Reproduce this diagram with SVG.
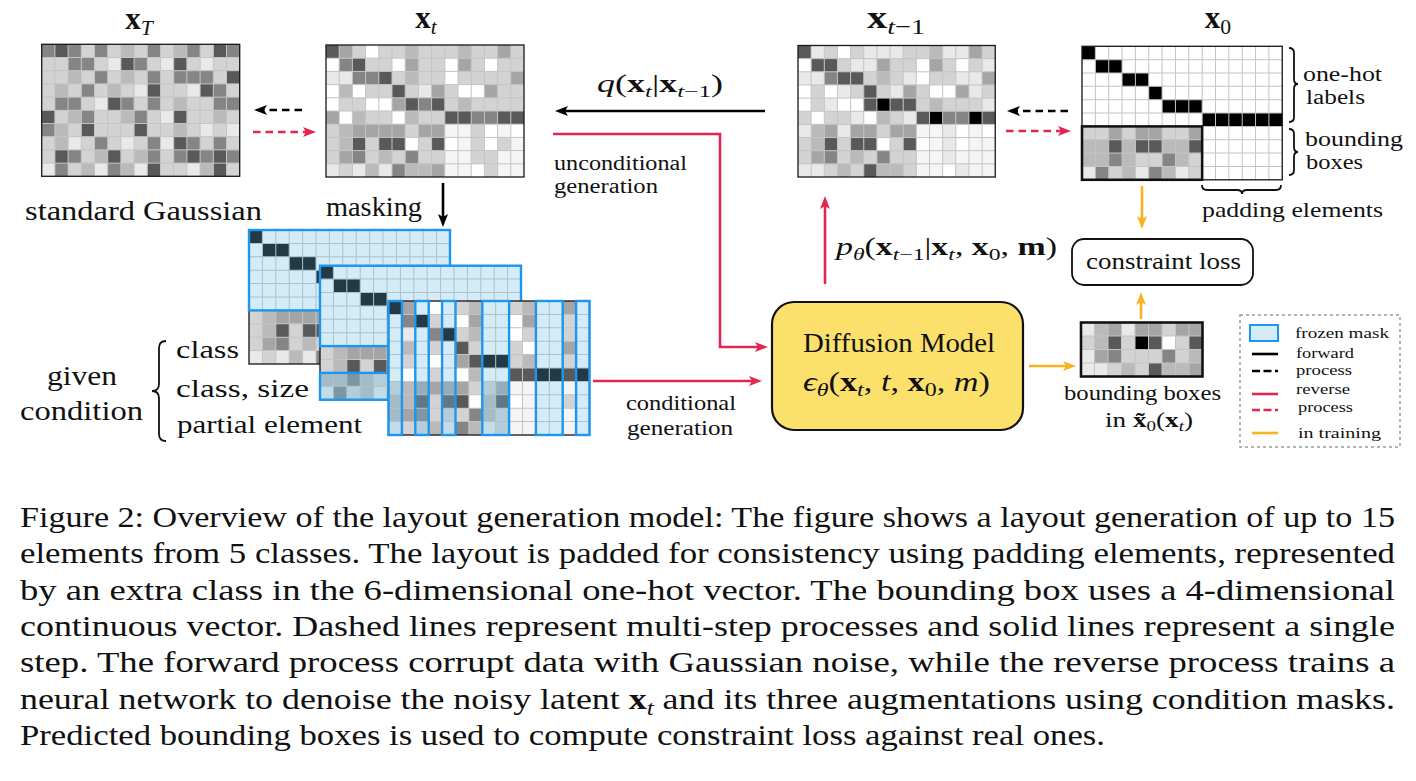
<svg xmlns="http://www.w3.org/2000/svg" xmlns:xlink="http://www.w3.org/1999/xlink" width="1416" height="781" viewBox="0 0 1416 781">
<style>
.t{font-family:"Liberation Serif","Times New Roman",serif;fill:#111}
.bx{font-weight:bold}
.it{font-style:italic}
.s{font-size:70%}
.gl{fill:none;stroke:#c4c4c4;stroke-width:.075}
.bd{fill:none;stroke:#1a1a1a;stroke-width:.1}
.fm{fill:#6cbfe8;fill-opacity:.3;stroke:#1e96f0;stroke-width:.18}
.ln{fill:none;stroke-width:2.6}
.k{stroke:#000}
.r{stroke:#e0284f}
.y{stroke:#f9b320}
.dash{stroke-dasharray:7.5 5}
.br{fill:none;stroke:#111;stroke-width:1.8}
</style>
<defs>
<rect id="W" width="1" height="1" fill="#ffffff"/>
<rect id="F" width="1" height="1" fill="#f5f5f5"/>
<rect id="E" width="1" height="1" fill="#e9e9e9"/>
<rect id="L" width="1" height="1" fill="#d3d3d3"/>
<rect id="M" width="1" height="1" fill="#bababa"/>
<rect id="G" width="1" height="1" fill="#a5a5a5"/>
<rect id="K" width="1" height="1" fill="#858585"/>
<rect id="D" width="1" height="1" fill="#595959"/>
<rect id="B" width="1" height="1" fill="#000000"/>
<path id="g15" d="M1 0V10M2 0V10M3 0V10M4 0V10M5 0V10M6 0V10M7 0V10M8 0V10M9 0V10M10 0V10M11 0V10M12 0V10M13 0V10M14 0V10M0 1H15M0 2H15M0 3H15M0 4H15M0 5H15M0 6H15M0 7H15M0 8H15M0 9H15"/>
<path id="g9" d="M1 0V4M2 0V4M3 0V4M4 0V4M5 0V4M6 0V4M7 0V4M8 0V4M0 1H9M0 2H9M0 3H9"/>
<g id="onehot">
<rect x="0" y="0" width="1" height="1" fill="#000"/>
<rect x="1" y="1" width="2" height="1" fill="#000"/>
<rect x="3" y="2" width="2" height="1" fill="#000"/>
<rect x="5" y="3" width="1" height="1" fill="#000"/>
<rect x="6" y="4" width="3" height="1" fill="#000"/>
<rect x="9" y="5" width="6" height="1" fill="#000"/>
</g>
<marker id="ak" viewBox="0 0 13 10" refX="3" refY="5" markerWidth="13" markerHeight="10" markerUnits="userSpaceOnUse" orient="auto"><path d="M0,0 L13,5 L0,10 L3,5 z" fill="#000"/></marker>
<marker id="ar" viewBox="0 0 13 10" refX="3" refY="5" markerWidth="13" markerHeight="10" markerUnits="userSpaceOnUse" orient="auto"><path d="M0,0 L13,5 L0,10 L3,5 z" fill="#e0284f"/></marker>
<marker id="ay" viewBox="0 0 13 10" refX="3" refY="5" markerWidth="13" markerHeight="10" markerUnits="userSpaceOnUse" orient="auto"><path d="M0,0 L13,5 L0,10 L3,5 z" fill="#f9b320"/></marker>
</defs>
<rect width="1416" height="781" fill="#fff"/>

<!-- x_T grid -->
<g id="grid-xT" transform="translate(41.7 44.3) scale(13.2)">
<rect width="15" height="10" fill="#d3d3d3"/>
<use href="#K" x="0" y="0"/><use href="#D" x="1" y="0"/><use href="#K" x="2" y="0"/><use href="#K" x="4" y="0"/><use href="#M" x="6" y="0"/><use href="#K" x="8" y="0"/><use href="#M" x="10" y="0"/><use href="#K" x="11" y="0"/><use href="#D" x="13" y="0"/><use href="#K" x="14" y="0"/>
<use href="#K" x="2" y="1"/><use href="#K" x="3" y="1"/><use href="#E" x="5" y="1"/><use href="#D" x="6" y="1"/><use href="#K" x="7" y="1"/><use href="#E" x="9" y="1"/><use href="#D" x="10" y="1"/><use href="#E" x="12" y="1"/>
<use href="#M" x="2" y="2"/><use href="#K" x="4" y="2"/><use href="#M" x="6" y="2"/><use href="#K" x="8" y="2"/><use href="#K" x="10" y="2"/><use href="#K" x="11" y="2"/><use href="#K" x="12" y="2"/><use href="#D" x="14" y="2"/>
<use href="#M" x="1" y="3"/><use href="#K" x="3" y="3"/><use href="#M" x="5" y="3"/><use href="#E" x="7" y="3"/><use href="#D" x="8" y="3"/><use href="#E" x="11" y="3"/><use href="#D" x="12" y="3"/><use href="#K" x="13" y="3"/>
<use href="#K" x="1" y="4"/><use href="#K" x="2" y="4"/><use href="#E" x="4" y="4"/><use href="#D" x="5" y="4"/><use href="#K" x="6" y="4"/><use href="#K" x="8" y="4"/><use href="#M" x="10" y="4"/><use href="#K" x="13" y="4"/><use href="#K" x="14" y="4"/>
<use href="#D" x="0" y="5"/><use href="#M" x="2" y="5"/><use href="#K" x="3" y="5"/><use href="#M" x="6" y="5"/><use href="#K" x="7" y="5"/><use href="#E" x="9" y="5"/><use href="#D" x="10" y="5"/><use href="#M" x="13" y="5"/>
<use href="#K" x="0" y="6"/><use href="#M" x="1" y="6"/><use href="#D" x="3" y="6"/><use href="#D" x="7" y="6"/><use href="#M" x="10" y="6"/><use href="#E" x="12" y="6"/><use href="#E" x="14" y="6"/>
<use href="#M" x="1" y="7"/><use href="#E" x="2" y="7"/><use href="#K" x="4" y="7"/><use href="#E" x="6" y="7"/><use href="#K" x="8" y="7"/><use href="#E" x="9" y="7"/><use href="#D" x="10" y="7"/><use href="#K" x="11" y="7"/><use href="#K" x="13" y="7"/>
<use href="#D" x="1" y="8"/><use href="#K" x="2" y="8"/><use href="#M" x="4" y="8"/><use href="#D" x="5" y="8"/><use href="#M" x="7" y="8"/><use href="#K" x="8" y="8"/><use href="#K" x="10" y="8"/><use href="#D" x="11" y="8"/><use href="#K" x="12" y="8"/><use href="#D" x="13" y="8"/><use href="#K" x="14" y="8"/>
<use href="#E" x="0" y="9"/><use href="#K" x="1" y="9"/><use href="#M" x="3" y="9"/><use href="#E" x="4" y="9"/><use href="#K" x="5" y="9"/><use href="#M" x="6" y="9"/><use href="#E" x="7" y="9"/><use href="#D" x="8" y="9"/><use href="#E" x="11" y="9"/><use href="#M" x="12" y="9"/><use href="#D" x="13" y="9"/>
<use href="#g15" class="gl"/>
<rect width="15" height="10" class="bd"/>
</g>

<!-- x_t grid -->
<g id="grid-xt" transform="translate(326 45) scale(13.2)">
<rect width="15" height="10" fill="#d3d3d3"/>
<use href="#D" x="0" y="0"/><use href="#G" x="1" y="0"/><use href="#W" x="3" y="0"/><use href="#M" x="6" y="0"/><use href="#M" x="10" y="0"/><use href="#G" x="13" y="0"/>
<use href="#W" x="0" y="1"/><use href="#K" x="1" y="1"/><use href="#D" x="2" y="1"/><use href="#W" x="5" y="1"/><use href="#G" x="6" y="1"/><use href="#W" x="9" y="1"/><use href="#G" x="10" y="1"/><use href="#W" x="12" y="1"/>
<use href="#E" x="0" y="2"/><use href="#E" x="1" y="2"/><use href="#K" x="2" y="2"/><use href="#K" x="3" y="2"/><use href="#D" x="4" y="2"/><use href="#M" x="6" y="2"/><use href="#W" x="9" y="2"/><use href="#G" x="14" y="2"/>
<use href="#W" x="0" y="3"/><use href="#M" x="1" y="3"/><use href="#W" x="2" y="3"/><use href="#D" x="5" y="3"/><use href="#E" x="7" y="3"/><use href="#G" x="8" y="3"/><use href="#W" x="10" y="3"/><use href="#W" x="11" y="3"/><use href="#G" x="12" y="3"/>
<use href="#W" x="0" y="4"/><use href="#W" x="3" y="4"/><use href="#W" x="4" y="4"/><use href="#G" x="5" y="4"/><use href="#D" x="6" y="4"/><use href="#K" x="7" y="4"/><use href="#D" x="8" y="4"/><use href="#M" x="10" y="4"/>
<use href="#G" x="0" y="5"/><use href="#W" x="1" y="5"/><use href="#M" x="2" y="5"/><use href="#W" x="5" y="5"/><use href="#M" x="6" y="5"/><use href="#D" x="9" y="5"/><use href="#D" x="10" y="5"/><use href="#K" x="11" y="5"/><use href="#K" x="12" y="5"/><use href="#D" x="13" y="5"/><use href="#D" x="14" y="5"/>
<use href="#M" x="1" y="6"/><use href="#G" x="2" y="6"/><use href="#G" x="3" y="6"/><use href="#G" x="4" y="6"/><use href="#G" x="5" y="6"/><use href="#G" x="7" y="6"/><use href="#G" x="8" y="6"/><use href="#F" x="9" y="6"/><use href="#F" x="10" y="6"/><use href="#W" x="12" y="6"/><use href="#F" x="13" y="6"/><use href="#W" x="14" y="6"/>
<use href="#M" x="1" y="7"/><use href="#D" x="2" y="7"/><use href="#D" x="4" y="7"/><use href="#D" x="5" y="7"/><use href="#W" x="6" y="7"/><use href="#D" x="8" y="7"/><use href="#W" x="9" y="7"/><use href="#F" x="10" y="7"/><use href="#W" x="12" y="7"/><use href="#F" x="14" y="7"/>
<use href="#G" x="1" y="8"/><use href="#K" x="2" y="8"/><use href="#M" x="4" y="8"/><use href="#K" x="6" y="8"/><use href="#F" x="9" y="8"/><use href="#F" x="10" y="8"/><use href="#F" x="13" y="8"/><use href="#F" x="14" y="8"/>
<use href="#E" x="0" y="9"/><use href="#E" x="2" y="9"/><use href="#M" x="3" y="9"/><use href="#E" x="4" y="9"/><use href="#K" x="5" y="9"/><use href="#M" x="6" y="9"/><use href="#M" x="7" y="9"/><use href="#G" x="8" y="9"/><use href="#F" x="9" y="9"/><use href="#F" x="10" y="9"/><use href="#W" x="11" y="9"/><use href="#F" x="13" y="9"/><use href="#F" x="14" y="9"/>
<use href="#g15" class="gl"/>
<rect width="15" height="10" class="bd"/>
</g>

<!-- x_{t-1} grid -->
<g id="grid-xt1" transform="translate(798 45.5) scale(13.15)">
<rect width="15" height="10" fill="#d3d3d3"/>
<use href="#D" x="0" y="0"/><use href="#E" x="1" y="0"/><use href="#W" x="3" y="0"/><use href="#E" x="5" y="0"/><use href="#E" x="6" y="0"/><use href="#E" x="7" y="0"/><use href="#M" x="10" y="0"/><use href="#E" x="11" y="0"/><use href="#E" x="12" y="0"/><use href="#G" x="13" y="0"/>
<use href="#W" x="0" y="1"/><use href="#D" x="1" y="1"/><use href="#D" x="2" y="1"/><use href="#E" x="4" y="1"/><use href="#E" x="5" y="1"/><use href="#G" x="6" y="1"/><use href="#W" x="9" y="1"/><use href="#G" x="10" y="1"/><use href="#W" x="12" y="1"/><use href="#E" x="14" y="1"/>
<use href="#E" x="0" y="2"/><use href="#E" x="1" y="2"/><use href="#K" x="2" y="2"/><use href="#D" x="3" y="2"/><use href="#D" x="4" y="2"/><use href="#M" x="6" y="2"/><use href="#E" x="8" y="2"/><use href="#W" x="9" y="2"/><use href="#E" x="12" y="2"/><use href="#E" x="13" y="2"/><use href="#G" x="14" y="2"/>
<use href="#W" x="0" y="3"/><use href="#W" x="2" y="3"/><use href="#E" x="3" y="3"/><use href="#D" x="5" y="3"/><use href="#E" x="7" y="3"/><use href="#G" x="8" y="3"/><use href="#W" x="10" y="3"/><use href="#W" x="11" y="3"/><use href="#G" x="12" y="3"/><use href="#E" x="13" y="3"/>
<use href="#W" x="0" y="4"/><use href="#E" x="2" y="4"/><use href="#W" x="3" y="4"/><use href="#W" x="4" y="4"/><use href="#D" x="5" y="4"/><use href="#B" x="6" y="4"/><use href="#D" x="7" y="4"/><use href="#D" x="8" y="4"/><use href="#M" x="10" y="4"/><use href="#E" x="14" y="4"/>
<use href="#W" x="1" y="5"/><use href="#E" x="4" y="5"/><use href="#W" x="5" y="5"/><use href="#M" x="6" y="5"/><use href="#E" x="8" y="5"/><use href="#D" x="9" y="5"/><use href="#B" x="10" y="5"/><use href="#K" x="11" y="5"/><use href="#K" x="12" y="5"/><use href="#B" x="13" y="5"/><use href="#D" x="14" y="5"/>
<use href="#E" x="0" y="6"/><use href="#M" x="1" y="6"/><use href="#G" x="2" y="6"/><use href="#E" x="3" y="6"/><use href="#G" x="4" y="6"/><use href="#G" x="5" y="6"/><use href="#G" x="7" y="6"/><use href="#G" x="8" y="6"/><use href="#F" x="9" y="6"/><use href="#F" x="10" y="6"/><use href="#E" x="11" y="6"/><use href="#W" x="12" y="6"/><use href="#F" x="13" y="6"/><use href="#W" x="14" y="6"/>
<use href="#M" x="1" y="7"/><use href="#D" x="2" y="7"/><use href="#D" x="4" y="7"/><use href="#D" x="5" y="7"/><use href="#W" x="6" y="7"/><use href="#D" x="8" y="7"/><use href="#W" x="9" y="7"/><use href="#F" x="10" y="7"/><use href="#E" x="11" y="7"/><use href="#W" x="12" y="7"/><use href="#F" x="13" y="7"/><use href="#F" x="14" y="7"/>
<use href="#G" x="1" y="8"/><use href="#K" x="2" y="8"/><use href="#M" x="4" y="8"/><use href="#K" x="6" y="8"/><use href="#F" x="9" y="8"/><use href="#F" x="10" y="8"/><use href="#E" x="11" y="8"/><use href="#F" x="12" y="8"/><use href="#F" x="13" y="8"/><use href="#F" x="14" y="8"/>
<use href="#E" x="0" y="9"/><use href="#E" x="1" y="9"/><use href="#M" x="3" y="9"/><use href="#D" x="5" y="9"/><use href="#M" x="6" y="9"/><use href="#M" x="7" y="9"/><use href="#F" x="9" y="9"/><use href="#F" x="10" y="9"/><use href="#W" x="11" y="9"/><use href="#E" x="12" y="9"/><use href="#F" x="13" y="9"/><use href="#F" x="14" y="9"/>
<use href="#g15" class="gl"/>
<rect width="15" height="10" class="bd"/>
</g>

<!-- x_0 grid -->
<g id="grid-x0" transform="translate(1082 46.3) scale(13.35)">
<rect width="15" height="10" fill="#fff"/>
<use href="#onehot"/>
<rect x="0" y="6" width="9" height="4" fill="#d3d3d3"/>
<use href="#G" x="2" y="6"/><use href="#G" x="4" y="6"/><use href="#G" x="5" y="6"/><use href="#G" x="8" y="6"/>
<use href="#M" x="0" y="7"/><use href="#M" x="1" y="7"/><use href="#D" x="2" y="7"/><use href="#M" x="3" y="7"/><use href="#D" x="4" y="7"/><use href="#D" x="5" y="7"/><use href="#M" x="6" y="7"/><use href="#M" x="7" y="7"/><use href="#D" x="8" y="7"/>
<use href="#M" x="0" y="8"/><use href="#M" x="1" y="8"/><use href="#K" x="2" y="8"/><use href="#M" x="3" y="8"/><use href="#K" x="6" y="8"/><use href="#M" x="7" y="8"/>
<use href="#E" x="0" y="9"/><use href="#K" x="1" y="9"/><use href="#M" x="3" y="9"/><use href="#E" x="4" y="9"/><use href="#K" x="5" y="9"/><use href="#M" x="6" y="9"/><use href="#E" x="7" y="9"/>
<use href="#g15" class="gl"/>
<rect width="15" height="10" class="bd"/>
<rect x="0" y="6" width="9" height="4" fill="none" stroke="#111" stroke-width=".19"/>
</g>

<!-- masked grid A: class -->
<g id="mask-class" transform="translate(249 230) scale(13.4)">
<rect width="15" height="10" fill="#fff"/>
<use href="#onehot"/>
<rect x="0" y="6" width="6" height="4" fill="#d3d3d3"/>
<use href="#M" x="1" y="6"/><use href="#G" x="2" y="6"/><use href="#G" x="3" y="6"/><use href="#G" x="4" y="6"/><use href="#G" x="5" y="6"/>
<use href="#M" x="1" y="7"/><use href="#D" x="2" y="7"/><use href="#D" x="4" y="7"/><use href="#D" x="5" y="7"/>
<use href="#G" x="1" y="8"/><use href="#K" x="2" y="8"/><use href="#M" x="4" y="8"/>
<use href="#E" x="0" y="9"/><use href="#E" x="2" y="9"/><use href="#M" x="3" y="9"/><use href="#E" x="4" y="9"/><use href="#K" x="5" y="9"/>
<use href="#g15" class="gl"/>
<rect width="15" height="10" class="bd"/>
<rect x="0" y="0" width="15" height="6" class="fm"/>
</g>

<!-- masked grid B: class, size -->
<g id="mask-class-size" transform="translate(320 265.7) scale(13.4)">
<rect width="15" height="10" fill="#fff"/>
<use href="#onehot"/>
<rect x="0" y="6" width="6" height="4" fill="#d3d3d3"/>
<use href="#M" x="1" y="6"/><use href="#G" x="2" y="6"/><use href="#G" x="3" y="6"/><use href="#G" x="4" y="6"/><use href="#G" x="5" y="6"/>
<use href="#M" x="1" y="7"/><use href="#D" x="2" y="7"/><use href="#D" x="4" y="7"/><use href="#D" x="5" y="7"/>
<use href="#M" x="0" y="8"/><use href="#M" x="1" y="8"/><use href="#K" x="2" y="8"/><use href="#M" x="3" y="8"/>
<use href="#E" x="0" y="9"/><use href="#K" x="1" y="9"/><use href="#M" x="3" y="9"/><use href="#E" x="4" y="9"/><use href="#K" x="5" y="9"/>
<use href="#g15" class="gl"/>
<rect width="15" height="10" class="bd"/>
<rect x="0" y="0" width="15" height="6" class="fm"/>
<rect x="0" y="8" width="15" height="2" class="fm"/>
</g>

<!-- masked grid C: partial element -->
<g id="mask-partial" transform="translate(388.5 301) scale(13.4)">
<rect width="15" height="10" fill="#fff"/>
<use href="#B" x="0" y="0"/><use href="#G" x="1" y="0"/><use href="#L" x="5" y="0"/><use href="#M" x="6" y="0"/><use href="#L" x="9" y="0"/><use href="#M" x="10" y="0"/><use href="#G" x="13" y="0"/>
<use href="#K" x="1" y="1"/><use href="#B" x="2" y="1"/><use href="#L" x="3" y="1"/><use href="#G" x="6" y="1"/><use href="#G" x="10" y="1"/><use href="#L" x="13" y="1"/>
<use href="#E" x="1" y="2"/><use href="#K" x="3" y="2"/><use href="#B" x="4" y="2"/><use href="#L" x="5" y="2"/><use href="#M" x="6" y="2"/><use href="#L" x="10" y="2"/><use href="#L" x="13" y="2"/>
<use href="#M" x="1" y="3"/><use href="#L" x="3" y="3"/><use href="#D" x="5" y="3"/><use href="#L" x="6" y="3"/><use href="#L" x="9" y="3"/><use href="#G" x="13" y="3"/>
<use href="#L" x="1" y="4"/><use href="#G" x="5" y="4"/><use href="#D" x="6" y="4"/><use href="#B" x="7" y="4"/><use href="#B" x="8" y="4"/><use href="#L" x="9" y="4"/><use href="#M" x="10" y="4"/><use href="#L" x="13" y="4"/>
<use href="#L" x="3" y="5"/><use href="#M" x="6" y="5"/><use href="#D" x="9" y="5"/><use href="#D" x="10" y="5"/><use href="#B" x="11" y="5"/><use href="#B" x="12" y="5"/><use href="#D" x="13" y="5"/><use href="#B" x="14" y="5"/>
<use href="#L" x="0" y="6"/><use href="#M" x="1" y="6"/><use href="#G" x="2" y="6"/><use href="#G" x="3" y="6"/><use href="#G" x="4" y="6"/><use href="#G" x="5" y="6"/><use href="#L" x="6" y="6"/><use href="#L" x="7" y="6"/><use href="#G" x="8" y="6"/><use href="#F" x="9" y="6"/><use href="#F" x="10" y="6"/><use href="#F" x="13" y="6"/>
<use href="#M" x="0" y="7"/><use href="#M" x="1" y="7"/><use href="#D" x="2" y="7"/><use href="#L" x="3" y="7"/><use href="#D" x="4" y="7"/><use href="#D" x="5" y="7"/><use href="#M" x="7" y="7"/><use href="#D" x="8" y="7"/><use href="#F" x="10" y="7"/><use href="#L" x="13" y="7"/>
<use href="#M" x="0" y="8"/><use href="#G" x="1" y="8"/><use href="#K" x="2" y="8"/><use href="#L" x="3" y="8"/><use href="#L" x="4" y="8"/><use href="#L" x="5" y="8"/><use href="#K" x="6" y="8"/><use href="#M" x="7" y="8"/><use href="#L" x="8" y="8"/><use href="#F" x="9" y="8"/><use href="#F" x="10" y="8"/><use href="#F" x="13" y="8"/>
<use href="#E" x="0" y="9"/><use href="#L" x="1" y="9"/><use href="#L" x="2" y="9"/><use href="#M" x="3" y="9"/><use href="#E" x="4" y="9"/><use href="#K" x="5" y="9"/><use href="#M" x="6" y="9"/><use href="#E" x="7" y="9"/><use href="#L" x="8" y="9"/><use href="#F" x="9" y="9"/><use href="#F" x="10" y="9"/><use href="#F" x="13" y="9"/>
<use href="#g15" class="gl"/>
<rect width="15" height="10" class="bd"/>
<rect x="0" y="0" width="1" height="10" class="fm"/>
<rect x="2" y="0" width="1" height="10" class="fm"/>
<rect x="4" y="0" width="1" height="10" class="fm"/>
<rect x="7" y="0" width="2" height="10" class="fm"/>
<rect x="11" y="0" width="2" height="10" class="fm"/>
<rect x="14" y="0" width="1" height="10" class="fm"/>
</g>

<!-- predicted bounding boxes -->
<g id="pred-bbox" transform="translate(1081 322.5) scale(13.5)">
<rect width="9" height="4" fill="#d3d3d3"/>
<use href="#E" x="0" y="0"/><use href="#M" x="1" y="0"/><use href="#G" x="2" y="0"/><use href="#E" x="3" y="0"/><use href="#G" x="4" y="0"/><use href="#G" x="5" y="0"/><use href="#G" x="7" y="0"/><use href="#G" x="8" y="0"/>
<use href="#M" x="1" y="1"/><use href="#D" x="2" y="1"/><use href="#B" x="4" y="1"/><use href="#D" x="5" y="1"/><use href="#W" x="6" y="1"/><use href="#D" x="8" y="1"/>
<use href="#E" x="0" y="2"/><use href="#G" x="1" y="2"/><use href="#K" x="2" y="2"/><use href="#K" x="6" y="2"/><use href="#M" x="8" y="2"/>
<use href="#E" x="0" y="3"/><use href="#E" x="1" y="3"/><use href="#M" x="3" y="3"/><use href="#D" x="5" y="3"/><use href="#M" x="6" y="3"/><use href="#M" x="7" y="3"/><use href="#G" x="8" y="3"/>
<use href="#g9" class="gl"/>
<rect width="9" height="4" fill="none" stroke="#111" stroke-width=".19"/>
</g>

<!-- grid labels -->
<g id="labels" class="t">
<text x="139" y="29" text-anchor="middle" font-size="31"><tspan class="bx">x</tspan><tspan class="s it" dy="6">T</tspan></text>
<text x="426" y="28" text-anchor="middle" font-size="31"><tspan class="bx">x</tspan><tspan class="s it" dy="6">t</tspan></text>
<text x="896" y="28" text-anchor="middle" font-size="31" textLength="58" lengthAdjust="spacingAndGlyphs"><tspan class="bx">x</tspan><tspan class="s" dy="6"><tspan class="it">t</tspan>−1</tspan></text>
<text x="1218" y="28" text-anchor="middle" font-size="31"><tspan class="bx">x</tspan><tspan class="s" dy="6">0</tspan></text>
<text x="25" y="220" font-size="27" textLength="237" lengthAdjust="spacingAndGlyphs">standard Gaussian</text>
<text x="326" y="216" font-size="27" textLength="96" lengthAdjust="spacingAndGlyphs">masking</text>
<text x="554" y="170" font-size="20.5" textLength="133" lengthAdjust="spacingAndGlyphs">unconditional</text>
<text x="554" y="193" font-size="20.5" textLength="104" lengthAdjust="spacingAndGlyphs">generation</text>
<text x="626" y="410" font-size="21" textLength="110" lengthAdjust="spacingAndGlyphs">conditional</text>
<text x="627" y="435" font-size="21" textLength="106" lengthAdjust="spacingAndGlyphs">generation</text>
<text x="47" y="385" font-size="28" textLength="70" lengthAdjust="spacingAndGlyphs">given</text>
<text x="20" y="420" font-size="28" textLength="123" lengthAdjust="spacingAndGlyphs">condition</text>
<text x="176" y="358" font-size="26" textLength="63" lengthAdjust="spacingAndGlyphs">class</text>
<text x="176" y="397" font-size="26" textLength="133" lengthAdjust="spacingAndGlyphs">class, size</text>
<text x="177" y="433" font-size="26" textLength="185" lengthAdjust="spacingAndGlyphs">partial element</text>
<text x="1303" y="81" font-size="20.5" textLength="79" lengthAdjust="spacingAndGlyphs">one-hot</text>
<text x="1306" y="104" font-size="20.5" textLength="59" lengthAdjust="spacingAndGlyphs">labels</text>
<text x="1305" y="146" font-size="20.5" textLength="98" lengthAdjust="spacingAndGlyphs">bounding</text>
<text x="1306" y="169" font-size="20.5" textLength="57" lengthAdjust="spacingAndGlyphs">boxes</text>
<text x="1202" y="217" font-size="22" textLength="181" lengthAdjust="spacingAndGlyphs">padding elements</text>
<text x="1064" y="400" font-size="22" textLength="157" lengthAdjust="spacingAndGlyphs">bounding boxes</text>
<text x="1105" y="427" font-size="22" textLength="88" lengthAdjust="spacingAndGlyphs">in <tspan class="bx">x̃</tspan><tspan class="s" dy="4">0</tspan><tspan dy="-4">(</tspan><tspan class="bx">x</tspan><tspan class="s it" dy="4">t</tspan><tspan dy="-4">)</tspan></text>
<text x="597" y="92" font-size="25" textLength="126" lengthAdjust="spacingAndGlyphs"><tspan class="it">q</tspan>(<tspan class="bx">x</tspan><tspan class="s it" dy="5">t</tspan><tspan dy="-5">|</tspan><tspan class="bx">x</tspan><tspan class="s" dy="5"><tspan class="it">t</tspan>−1</tspan><tspan dy="-5">)</tspan></text>
<text x="836" y="255" font-size="25" textLength="221" lengthAdjust="spacingAndGlyphs"><tspan class="it">p</tspan><tspan class="s it" dy="5">θ</tspan><tspan dy="-5">(</tspan><tspan class="bx">x</tspan><tspan class="s" dy="5"><tspan class="it">t</tspan>−1</tspan><tspan dy="-5">|</tspan><tspan class="bx">x</tspan><tspan class="s it" dy="5">t</tspan><tspan dy="-5">, </tspan><tspan class="bx">x</tspan><tspan class="s" dy="5">0</tspan><tspan dy="-5">, </tspan><tspan class="bx">m</tspan>)</text>
</g>

<!-- diffusion model node -->
<g id="diffusion-model">
<rect x="772" y="302" width="251" height="128" rx="22" fill="#fbe06c" stroke="#111" stroke-width="2.2"/>
<text x="803" y="352" class="t" font-size="27" textLength="192" lengthAdjust="spacingAndGlyphs">Diffusion Model</text>
<text x="803" y="391" class="t" font-size="27" textLength="187" lengthAdjust="spacingAndGlyphs"><tspan class="it">ϵ</tspan><tspan class="s it" dy="5">θ</tspan><tspan dy="-5">(</tspan><tspan class="bx">x</tspan><tspan class="s it" dy="5">t</tspan><tspan dy="-5">, </tspan><tspan class="it">t</tspan>, <tspan class="bx">x</tspan><tspan class="s" dy="5">0</tspan><tspan dy="-5">, </tspan><tspan class="it">m</tspan>)</text>
</g>

<!-- constraint loss node -->
<g id="constraint-loss">
<rect x="1072" y="239" width="181" height="46" rx="12" fill="#fff" stroke="#111" stroke-width="1.8"/>
<text x="1086" y="269" class="t" font-size="23" textLength="155" lengthAdjust="spacingAndGlyphs">constraint loss</text>
</g>

<!-- braces -->
<g id="braces">
<path class="br" d="M1289,48 Q1294,48 1294,53 V79 Q1294,84 1298,84 Q1294,84 1294,89 V117 Q1294,122 1289,122"/>
<path class="br" d="M1289,129 Q1294,129 1294,134 V147 Q1294,152 1298,152 Q1294,152 1294,157 V170 Q1294,175 1289,175"/>
<path class="br" d="M1202,185 Q1202,190 1207,190 H1237 Q1242,190 1242,194 Q1242,190 1247,190 H1276 Q1281,190 1281,185"/>
<path class="br" d="M166,341 Q159,341 159,348 V384 Q159,391 152,391 Q159,391 159,398 V434 Q159,441 166,441"/>
</g>

<!-- connectors -->
<g id="connectors">
<path class="ln k dash" d="M302,110 H264" marker-end="url(#ak)"/>
<path class="ln r dash" d="M253,132 H306" marker-end="url(#ar)"/>
<path class="ln k" d="M765,111 H565" marker-end="url(#ak)"/>
<path class="ln k" d="M443,183 V217" marker-end="url(#ak)"/>
<path class="ln r" d="M553,134 H720 V347 H758" marker-end="url(#ar)"/>
<path class="ln r" d="M825,284 V206" marker-end="url(#ar)"/>
<path class="ln r" d="M593,381 H752" marker-end="url(#ar)"/>
<path class="ln k dash" d="M1068,111 H1017" marker-end="url(#ak)"/>
<path class="ln r dash" d="M1006,131 H1061" marker-end="url(#ar)"/>
<path class="ln y" d="M1029,366 H1066" marker-end="url(#ay)"/>
<path class="ln y" d="M1141,319 V302" marker-end="url(#ay)"/>
<path class="ln y" d="M1142,186 V219" marker-end="url(#ay)"/>
</g>

<!-- legend -->
<g id="legend">
<rect x="1240" y="315" width="160" height="132" fill="none" stroke="#9a9a9a" stroke-width="1.5" stroke-dasharray="3 3"/>
<rect x="1250" y="325" width="28" height="16" fill="#d3ecf8" stroke="#1e96f0" stroke-width="2"/>
<path class="ln k" d="M1252,354 H1278"/>
<path class="ln k" d="M1252,371 H1278" stroke-dasharray="8 3.5"/>
<path class="ln r" d="M1252,394 H1278"/>
<path class="ln r" d="M1252,410 H1278" stroke-dasharray="8 3.5"/>
<path class="ln y" d="M1252,433 H1278"/>
<g class="t" font-size="15.5">
<text x="1295" y="338" textLength="94" lengthAdjust="spacingAndGlyphs">frozen mask</text>
<text x="1296" y="358" textLength="58" lengthAdjust="spacingAndGlyphs">forward</text>
<text x="1296" y="375" textLength="56" lengthAdjust="spacingAndGlyphs">process</text>
<text x="1296" y="394" textLength="54" lengthAdjust="spacingAndGlyphs">reverse</text>
<text x="1298" y="412" textLength="55" lengthAdjust="spacingAndGlyphs">process</text>
<text x="1298" y="438" textLength="83" lengthAdjust="spacingAndGlyphs">in training</text>
</g>
</g>

<!-- caption -->
<g id="caption" class="t" font-size="30">
<text x="20" y="527" textLength="1375" lengthAdjust="spacingAndGlyphs">Figure 2: Overview of the layout generation model: The figure shows a layout generation of up to 15</text>
<text x="20" y="563.3" textLength="1375" lengthAdjust="spacingAndGlyphs">elements from 5 classes. The layout is padded for consistency using padding elements, represented</text>
<text x="20" y="599.6" textLength="1375" lengthAdjust="spacingAndGlyphs">by an extra class in the 6-dimensional one-hot vector.  The bounding box uses a 4-dimensional</text>
<text x="20" y="635.9" textLength="1375" lengthAdjust="spacingAndGlyphs">continuous vector.  Dashed lines represent multi-step processes and solid lines represent a single</text>
<text x="20" y="672.2" textLength="1375" lengthAdjust="spacingAndGlyphs">step.  The forward process corrupt data with Gaussian noise, while the reverse process trains a</text>
<text x="20" y="708.5" textLength="1375" lengthAdjust="spacingAndGlyphs">neural network to denoise the noisy latent <tspan class="bx">x</tspan><tspan class="s it" dy="6">t</tspan><tspan dy="-6"> and its three augmentations using condition masks.</tspan></text>
<text x="20" y="744.8" textLength="1085" lengthAdjust="spacingAndGlyphs">Predicted bounding boxes is used to compute constraint loss against real ones.</text>
</g>
</svg>
